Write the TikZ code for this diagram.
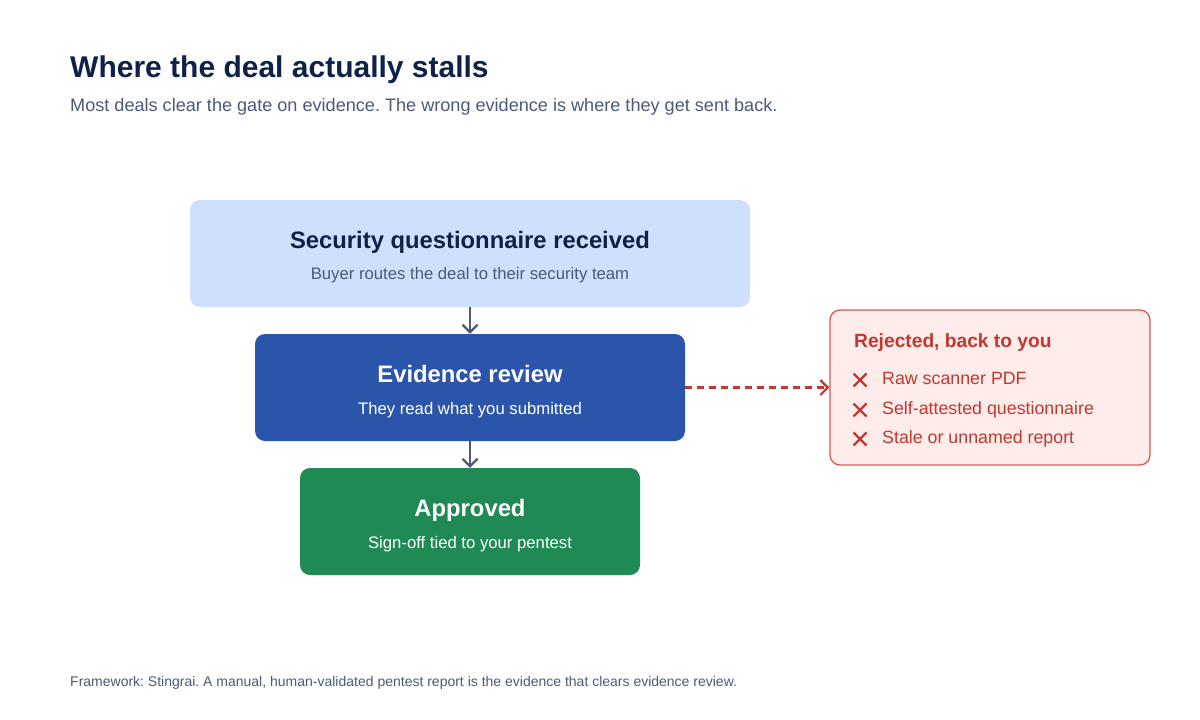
\documentclass[tikz,border=0pt]{standalone}
\usepackage{fontspec}
\setmainfont{Liberation Sans}
\usepackage{xcolor}
\usetikzlibrary{arrows.meta,positioning}
\definecolor{navy}{HTML}{0F2148}
\definecolor{slate}{HTML}{4B5A78}
\definecolor{paleblue}{HTML}{CFE0FC}
\definecolor{midblue}{HTML}{2B55AB}
\definecolor{okgreen}{HTML}{1F8A53}
\definecolor{rejred}{HTML}{C4372E}
\definecolor{rejline}{HTML}{D65A50}
\definecolor{rejfill}{HTML}{FDECEA}
\frenchspacing

\begin{document}
\begin{tikzpicture}[x=1pt,y=-1pt,
  stagebox/.style={rounded corners=10pt, inner sep=0pt, minimum height=107pt},
  stagetitle/.style={anchor=base, inner sep=0pt, font=\fontsize{23.8}{28}\selectfont\bfseries},
  stagenote/.style={anchor=base, inner sep=0pt, font=\fontsize{16.7}{20}\selectfont},
  flow/.style={draw=slate, line width=2.2pt, -{Straight Barb[length=7.5pt,width=15pt]}},
  rejectflow/.style={draw=rejred, line width=2.2pt, dash pattern=on 7pt off 5pt, -{Straight Barb[length=7.5pt,width=15pt]}},
  rejitem/.style={anchor=base west, inner sep=0pt, text=rejred, font=\fontsize{17.8}{21}\selectfont}]
  \useasboundingbox[fill=white] (0,0) rectangle (1200,720);

  \node[anchor=base west, inner sep=0pt, text=navy, font=\fontsize{30}{34}\selectfont\bfseries] (title) at (70,77) {Where the deal actually stalls};
  \node[anchor=base west, inner sep=0pt, text=slate, font=\fontsize{18.1}{22}\selectfont] (subtitle) at (70,111) {Most deals clear the gate on evidence. The wrong evidence is where they get sent back.};

  \node[stagebox, fill=paleblue, minimum width=560pt] (received) at (470,253.5) {};
  \node[stagetitle, text=navy] (receivedT) at ([yshift=5.5pt]received.center) {Security questionnaire received};
  \node[stagenote, text=slate] (receivedN) at ([yshift=-25.5pt]received.center) {Buyer routes the deal to their security team};

  \node[stagebox, fill=midblue, minimum width=430pt] (review) at (470,387.5) {};
  \node[stagetitle, text=white] (reviewT) at ([yshift=5.5pt]review.center) {Evidence review};
  \node[stagenote, text=white] (reviewN) at ([yshift=-26.5pt]review.center) {They read what you submitted};

  \node[stagebox, fill=okgreen, minimum width=340pt] (approved) at (470,521.5) {};
  \node[stagetitle, text=white] (approvedT) at ([yshift=5.5pt]approved.center) {Approved};
  \node[stagenote, text=white] (approvedN) at ([yshift=-26.5pt]approved.center) {Sign-off tied to your pentest};

  \node[draw=rejline, line width=1.3pt, fill=rejfill, rounded corners=10pt, minimum width=320pt, minimum height=155pt] (rejected) at (990,387.5) {};
  \node[anchor=base west, inner sep=0pt, text=rejred, font=\fontsize{19.2}{23}\selectfont\bfseries] (rejectedT) at (854,347) {Rejected, back to you};
  \foreach [count=\i] \txt/\yy in {Raw scanner PDF/384, Self-attested questionnaire/414, Stale or unnamed report/443} {
    \node[rejitem] (reason\i) at (882,\yy) {\txt};
    \draw[rejred, line width=2.2pt] (853.5,\yy-10.5) -- (866.5,\yy+2.5) (853.5,\yy+2.5) -- (866.5,\yy-10.5);
  }

  \draw[flow] (received) -- (review);
  \draw[flow] (review) -- (approved);
  \draw[rejectflow] (review) -- (rejected);

  \node[anchor=base west, inner sep=0pt, text=slate, font=\fontsize{14}{17}\selectfont] (footer) at (70,686) {Framework: Stingrai. A manual, human-validated pentest report is the evidence that clears evidence review.};
\end{tikzpicture}
\end{document}
